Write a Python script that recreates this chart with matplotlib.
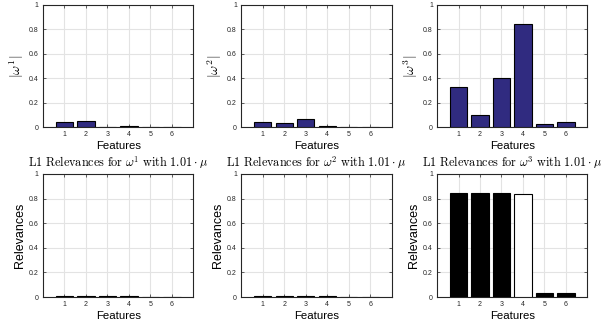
import numpy as np
import matplotlib.pyplot as plt

plt.rcParams['mathtext.fontset'] = 'cm'
plt.rcParams['font.family'] = 'Liberation Sans'

########### Data ###########

features = [1, 2, 3, 4, 5, 6]

w1 = [0.045, 0.050, 0.004, 0.010, 0.002, 0.003]
w2 = [0.038, 0.034, 0.062, 0.010, 0.002, 0.003]
w3 = [0.330, 0.100, 0.400, 0.840, 0.022, 0.045]

rel1 = [0.010, 0.010, 0.010, 0.012, 0.004, 0.003]
rel2 = [0.010, 0.010, 0.010, 0.012, 0.004, 0.003]
rel3 = [0.845, 0.842, 0.843, 0.840, 0.030, 0.030]

top_vals = [w1, w2, w3]
bot_vals = [rel1, rel2, rel3]

########### Figure ###########

fig = plt.figure(figsize=(6.09, 3.30), dpi=100)

lefts = [0.0706, 0.396, 0.7176]
width = 0.247
bar_color = '#302b80'


def style(ax):
    ax.set_xlim(0, 7)
    ax.set_ylim(0, 1)
    ax.set_xticks(features)
    ax.set_yticks([0, 0.2, 0.4, 0.6, 0.8, 1])
    ax.set_yticklabels(['0', '0.2', '0.4', '0.6', '0.8', '1'])
    ax.tick_params(direction='in', length=2, width=0.5, labelsize=5,
                   colors='#262626', top=True, right=True, pad=3)
    ax.grid(True, color='#e3e3e3', linewidth=0.8)
    ax.set_axisbelow(True)
    for s in ax.spines.values():
        s.set_linewidth(0.8)
        s.set_color('#262626')
    ax.set_xlabel('Features', fontsize=8.2, labelpad=2)


for i in range(3):
    # top row: absolute weights
    ax = fig.add_axes([lefts[i], 0.615, width, 0.37])
    ax.bar(features, top_vals[i], width=0.8, color=bar_color,
           edgecolor='black', linewidth=0.8, zorder=3)
    style(ax)
    ax.set_ylabel(r'$|\omega^{%d}|$' % (i + 1), fontsize=10, labelpad=2)

    # bottom row: relevances
    ax2 = fig.add_axes([lefts[i], 0.10, width, 0.373])
    cols = ['black'] * 6
    if i == 2:
        cols[3] = 'white'
    ax2.bar(features, bot_vals[i], width=0.8, color=cols,
            edgecolor='black', linewidth=0.8, zorder=3)
    style(ax2)
    ax2.set_ylabel('Relevances', fontsize=9, labelpad=2)
    ax2.set_title(r'$\mathrm{L1\ Relevances\ for\ }\omega^{%d}\mathrm{\ with\ }1.01\cdot\mu$' % (i + 1),
                  fontsize=8.8, pad=5)

fig.savefig('out.png', dpi=100)
